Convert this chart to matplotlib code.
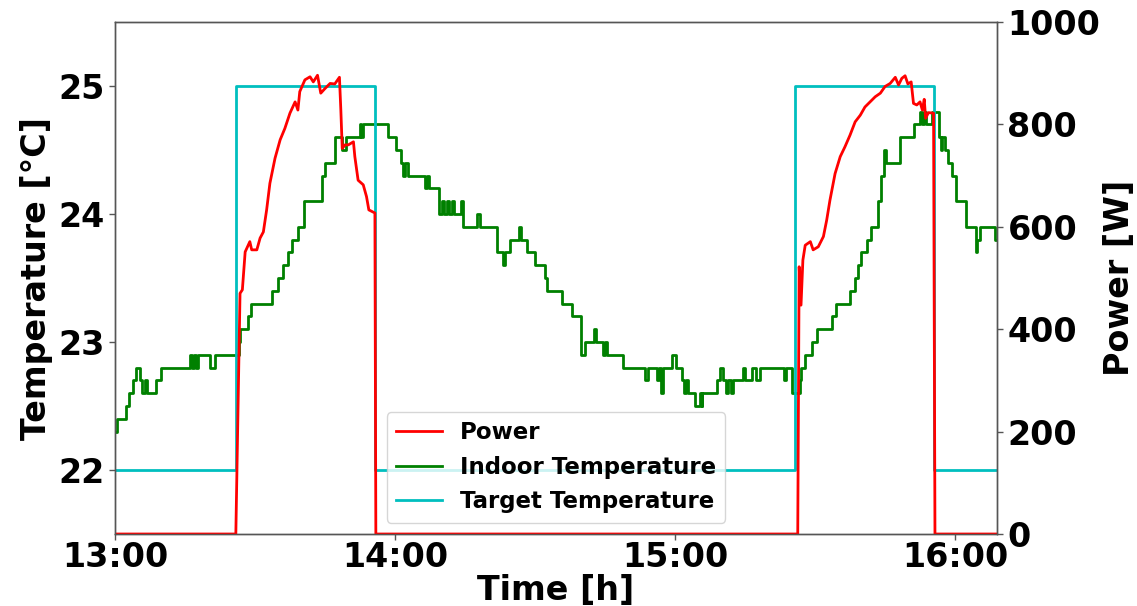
import matplotlib
matplotlib.use("Agg")
import matplotlib.pyplot as plt

plt.rcParams['font.family'] = ['DejaVu Sans']
plt.rcParams['font.weight'] = 'bold'
plt.rcParams['axes.labelweight'] = 'bold'

# minutes after 13:00
x_ticks = [0, 60, 120, 180]
x_tick_labels = ["13:00", "14:00", "15:00", "16:00"]
temp_ticks = [22, 23, 24, 25]
power_ticks = [0, 200, 400, 600, 800, 1000]

# Target temperature (step changes)
target_t = [0, 25.9, 55.7, 145.7, 175.6, 189]
target_v = [22.0, 25.0, 22.0, 25.0, 22.0, 22.0]

# Power [W]
power_t = [0, 25.9, 26.8, 27.3, 27.9, 28.9, 29.3, 30.4, 31.1, 31.8, 32.5, 33.2, 34.3, 35.4,
           36.4, 37.5, 38.6, 39.2, 39.6, 40.7, 41.8, 42.5, 43.4, 44.1, 45.0, 46.1, 47.1,
           48.1, 48.4, 48.7, 49.3, 50.0, 51.1, 51.4, 52.1, 53.2, 53.9, 54.4, 55.7, 55.9,
           146.3, 146.6, 147.0, 147.4, 147.9, 149.0, 149.6, 150.7, 151.8, 152.5, 153.2,
           154.3, 155.4, 156.4, 157.5, 158.6, 159.7, 160.7, 161.8, 162.9, 164.0, 165.0,
           166.1, 167.2, 167.9, 168.6, 169.3, 169.9, 170.6, 171.1, 171.8, 172.5, 173.0,
           173.4, 173.7, 174.3, 175.4, 175.7, 189]
power_v = [0, 0, 470, 477, 551, 571, 555, 555, 578, 590, 633, 685, 734, 770,
           792, 822, 844, 828, 864, 887, 893, 883, 896, 861, 870, 880, 879,
           892, 828, 753, 760, 760, 766, 737, 691, 682, 659, 633, 627, 0,
           0, 522, 447, 535, 564, 571, 555, 561, 581, 613, 652,
           704, 737, 756, 779, 805, 818, 834, 844, 854, 861, 874,
           880, 892, 877, 890, 895, 879, 883, 841, 838, 844, 828,
           849, 812, 823, 822, 0, 0]

# Indoor temperature [°C] (value holds from each time until the next)
indoor_t = [0, 0.4, 2.4, 3.0, 3.8, 4.5, 5.3, 5.9, 6.4, 6.8, 8.9, 9.9,
            16.1, 16.6, 17.0, 17.4, 17.9, 20.3, 21.4,
            26.6, 26.9, 28.5, 29.1, 33.6, 35.0, 36.1, 37.1, 37.9, 39.3, 40.4, 40.6,
            44.4, 45.1, 47.1, 48.6, 49.4, 52.5, 52.8, 53.1,
            58.6, 60.2, 61.3, 61.7, 62.1, 62.8, 66.4, 66.9, 67.3,
            69.4, 70.0, 70.4, 71.2, 71.6, 72.3, 72.7, 74.1, 74.5, 77.5, 78.2,
            81.8, 83.2, 83.6, 84.6, 86.6, 87.1, 88.2, 90.0, 92.1, 92.6, 95.7, 97.9,
            99.8, 100.7, 102.6, 103.0, 104.6, 104.9, 105.4,
            108.9, 113.6, 114.2, 116.1, 116.6, 116.9, 117.4, 119.3, 120.2,
            121.4, 121.9, 122.3, 122.7, 123.2, 124.3, 125.4, 125.7, 125.8,
            128.9, 129.7, 130.3, 130.9, 131.3, 132.0, 132.4, 134.5, 134.9,
            136.4, 137.4, 138.2, 143.4, 143.8, 145.0,
            146.8, 147.0, 147.9, 149.3, 150.4, 153.7, 154.6, 157.6, 158.6, 159.3,
            159.9, 161.2, 162.0, 163.5, 164.1, 164.8, 165.3, 168.2, 171.2, 172.6,
            172.9, 173.4, 173.7, 175.0, 176.6, 177.0, 177.3, 177.9, 178.5, 179.4,
            180.2, 182.4, 184.4, 184.8, 185.4, 188.5, 189]
indoor_v = [22.3, 22.4, 22.5, 22.6, 22.7, 22.8, 22.7, 22.6, 22.7, 22.6, 22.7, 22.8,
            22.9, 22.8, 22.9, 22.8, 22.9, 22.8, 22.9,
            23.0, 23.1, 23.2, 23.3, 23.4, 23.5, 23.6, 23.7, 23.8, 23.9, 24.0, 24.1,
            24.3, 24.4, 24.6, 24.5, 24.6, 24.7, 24.6, 24.7,
            24.6, 24.5, 24.4, 24.3, 24.4, 24.3, 24.2, 24.3, 24.2,
            24.0, 24.1, 24.0, 24.1, 24.0, 24.1, 24.0, 24.1, 23.9, 24.0, 23.9,
            23.7, 23.6, 23.7, 23.8, 23.9, 23.8, 23.7, 23.6, 23.5, 23.4, 23.3, 23.2,
            22.9, 23.0, 23.1, 23.0, 22.9, 23.0, 22.9,
            22.8, 22.7, 22.8, 22.7, 22.8, 22.6, 22.8, 22.9, 22.8,
            22.7, 22.6, 22.7, 22.6, 22.6, 22.5, 22.6, 22.5, 22.6,
            22.7, 22.8, 22.7, 22.6, 22.7, 22.6, 22.7, 22.8, 22.7,
            22.8, 22.7, 22.8, 22.7, 22.8, 22.6,
            22.7, 22.8, 22.9, 23.0, 23.1, 23.2, 23.3, 23.4, 23.5, 23.6,
            23.7, 23.8, 23.9, 24.1, 24.3, 24.5, 24.4, 24.6, 24.7, 24.8,
            24.7, 24.8, 24.7, 24.8, 24.6, 24.5, 24.6, 24.5, 24.4, 24.3,
            24.1, 23.9, 23.7, 23.8, 23.9, 23.8, 23.8]

fig = plt.figure(figsize=(11.37, 6.06), dpi=100)
ax = fig.add_axes([0.1011, 0.1188, 0.7758, 0.8449])
ax2 = ax.twinx()

l_ind, = ax.plot(indoor_t, indoor_v, color='g', lw=2, drawstyle='steps-post',
                 label='Indoor Temperature')
l_tar, = ax.plot(target_t, target_v, color='c', lw=2, drawstyle='steps-post',
                 label='Target Temperature')
l_pow, = ax2.plot(power_t, power_v, color='r', lw=2, label='Power')

ax.set_xlim(0, 189)
ax.set_ylim(21.5, 25.5)
ax2.set_ylim(0, 1000)

ax.set_xticks(x_ticks)
ax.set_xticklabels(x_tick_labels)
ax.set_yticks(temp_ticks)
ax2.set_yticks(power_ticks)

for a in (ax, ax2):
    a.tick_params(labelsize=24, length=4, width=1, color='#555555')
    for s in a.spines.values():
        s.set_color('#555555')
        s.set_linewidth(1)
ax.tick_params(axis='x', pad=1)

ax.set_xlabel('Time [h]', fontsize=24, fontweight='bold', labelpad=0)
ax.set_ylabel('Temperature [°C]', fontsize=24, fontweight='bold')
ax2.set_ylabel('Power [W]', fontsize=24, fontweight='bold', labelpad=2)

ax2.legend(handles=[l_pow, l_ind, l_tar], loc='lower center',
           prop={'weight': 'bold', 'size': 16.5})

fig.savefig('out.png', dpi=100)
